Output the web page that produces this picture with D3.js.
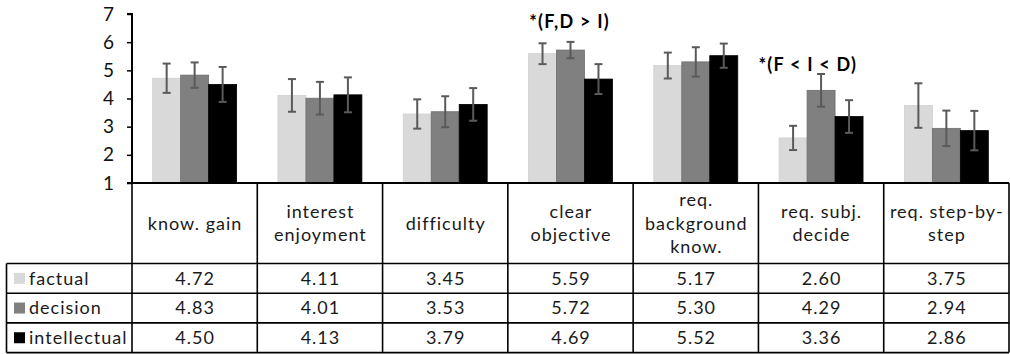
<!DOCTYPE html>
<html><head><meta charset="utf-8">
<script src="https://cdn.jsdelivr.net/npm/d3@7"></script>
<style>
body{margin:0;background:#fff;}
svg{display:block;}
text{font-family:Lato,"Open Sans",sans-serif;}
</style></head>
<body><svg id="c" width="1010" height="354"></svg>
<script>
const categories = ["know. gain","interest enjoyment","difficulty","clear objective","req. background know.","req. subj. decide","req. step-by-step"];
const headerLines = [["know. gain"],["interest","enjoyment"],["difficulty"],["clear","objective"],["req.","background","know."],["req. subj.","decide"],["req. step-by-","step"]];
const seriesNames = ["factual","decision","intellectual"];
const seriesColors = ["#d9d9d9","#808080","#000000"];
const factual = [4.72,4.11,3.45,5.59,5.17,2.60,3.75];
const decision = [4.83,4.01,3.53,5.72,5.30,4.29,2.94];
const intellectual = [4.50,4.13,3.79,4.69,5.52,3.36,2.86];
const factualErr = [0.52,0.58,0.52,0.37,0.46,0.43,0.79];
const decisionErr = [0.45,0.58,0.55,0.29,0.52,0.58,0.63];
const intellectualErr = [0.62,0.62,0.58,0.53,0.43,0.58,0.70];
const yTicks = [1,2,3,4,5,6,7];
const annotations = [{cat:3, text:"*(F,D > I)", value:6.73, anchor:"middle"},{cat:5, text:"*(F < I < D)", value:5.19, anchor:"start"}];

const values = [factual, decision, intellectual];
const errs = [factualErr, decisionErr, intellectualErr];

const svg = d3.select("#c");
const left = 132, right = 1009, axisY = 183, topY = 14;
const y = d3.scaleLinear().domain([1,7]).range([axisY, topY]);
const x0 = d3.scaleBand().domain(categories).range([left, right]).padding(0);
const bw = x0.bandwidth();
const x1 = d3.scaleBand().domain(seriesNames).range([bw*0.165, bw*0.835]).padding(0);

const fs = 18, ls = 1;

// bars
const g = svg.append("g");
categories.forEach((c, ci) => {
  seriesNames.forEach((s, si) => {
    const v = values[si][ci];
    g.append("rect")
      .attr("x", x0(c) + x1(s))
      .attr("y", y(v))
      .attr("width", x1.bandwidth())
      .attr("height", y(1) - y(v))
      .attr("fill", seriesColors[si])
      .attr("stroke", si===1 ? "#6e6e6e" : (si===0 ? "#d0d0d0" : "#000"))
      .attr("stroke-width", 0.8);
  });
});
// error bars
categories.forEach((c, ci) => {
  seriesNames.forEach((s, si) => {
    const v = values[si][ci], e = errs[si][ci];
    const cx = x0(c) + x1(s) + x1.bandwidth()/2;
    const eg = g.append("g").attr("stroke", "#5a5a5a").attr("stroke-width", 2);
    eg.append("line").attr("x1", cx).attr("x2", cx).attr("y1", y(v+e)).attr("y2", y(v-e));
    eg.append("line").attr("x1", cx-4).attr("x2", cx+4).attr("y1", y(v+e)).attr("y2", y(v+e));
    eg.append("line").attr("x1", cx-4).attr("x2", cx+4).attr("y1", y(v-e)).attr("y2", y(v-e));
  });
});

// y axis
const ya = svg.append("g").attr("transform", `translate(${left},0)`)
  .call(d3.axisLeft(y).tickValues(yTicks).tickSize(5).tickPadding(13).tickFormat(d3.format("d")));
ya.select(".domain").attr("stroke", "#000").attr("stroke-width", 2).attr("d", `M-5,${topY}H0V${axisY}`);
ya.selectAll(".tick line").attr("stroke", "#000").attr("stroke-width", 1.5);
ya.selectAll(".tick text").attr("font-size", 19).attr("fill", "#111").attr("font-family", "Lato");

// table
const rowTop = 263.5, rowH = 29.7, tableLeft = 6.5;
const rowY = seriesNames.map((s, i) => rowTop + i*rowH);
const bottom = rowTop + 3*rowH;
const tl = svg.append("g").attr("stroke", "#000").attr("stroke-width", 1.6);
tl.append("line").attr("x1", left-5).attr("x2", right).attr("y1", axisY).attr("y2", axisY).attr("stroke-width", 2);
[rowTop, rowTop+rowH, rowTop+2*rowH, bottom].forEach(yy => {
  tl.append("line").attr("x1", tableLeft).attr("x2", right).attr("y1", yy).attr("y2", yy);
});
categories.forEach(c => {
  tl.append("line").attr("x1", x0(c)).attr("x2", x0(c)).attr("y1", axisY).attr("y2", bottom);
});
tl.append("line").attr("x1", right).attr("x2", right).attr("y1", axisY).attr("y2", bottom);
tl.append("line").attr("x1", tableLeft).attr("x2", tableLeft).attr("y1", rowTop).attr("y2", bottom);

// header text
const hc = (axisY + rowTop)/2, lh = 23.5;
categories.forEach((c, ci) => {
  const lines = headerLines[ci];
  const t = svg.append("text").attr("text-anchor", "middle").attr("font-size", fs).attr("fill", "#1a1a1a").style("letter-spacing", ls+"px");
  lines.forEach((ln, li) => {
    t.append("tspan").attr("x", x0(c) + bw/2 + ls/2).attr("y", hc + (li - (lines.length-1)/2)*lh).attr("dy", "0.35em").text(ln);
  });
});

// data cells and legend
seriesNames.forEach((s, si) => {
  const cy = rowY[si] + rowH/2;
  svg.append("rect").attr("x", 14).attr("y", cy-5.5).attr("width", 11).attr("height", 11).attr("fill", seriesColors[si]);
  svg.append("text").attr("x", 29).attr("y", cy).attr("dy", "0.35em").attr("font-size", fs).attr("fill", "#1a1a1a").style("letter-spacing", ls+"px").text(s);
  categories.forEach((c, ci) => {
    svg.append("text").attr("x", x0(c) + bw/2 + ls/2).attr("y", cy).attr("dy", "0.35em").attr("text-anchor", "middle")
      .attr("font-size", fs).attr("fill", "#1a1a1a").style("letter-spacing", ls+"px").text(values[si][ci].toFixed(2));
  });
});

// annotations
annotations.forEach(a => {
  const cx = a.anchor === "start" ? x0(categories[a.cat]) : x0(categories[a.cat]) + bw/2 - 1;
  svg.append("text").attr("x", cx).attr("y", y(a.value)).attr("dy", "0.35em")
    .attr("text-anchor", a.anchor)
    .attr("font-size", 18).attr("font-weight", "bold").attr("fill", "#000").style("letter-spacing", "1.2px").text(a.text);
});
</script></body></html>
